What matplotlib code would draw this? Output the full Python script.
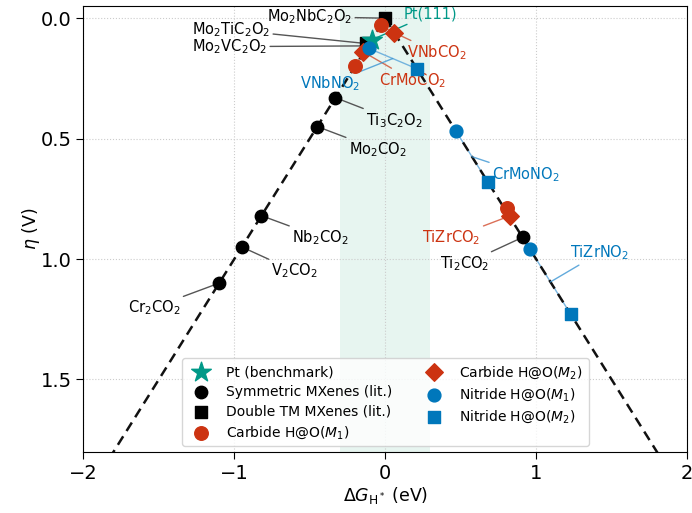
import numpy as np
import matplotlib
matplotlib.use("Agg")
import matplotlib.pyplot as plt

# ---- data (dG_H* in eV, eta in V) ----
pt_dg = [-0.09]
pt_eta = [0.09]

sym_names = [r"Cr$_2$CO$_2$", r"V$_2$CO$_2$", r"Nb$_2$CO$_2$",
             r"Mo$_2$CO$_2$", r"Ti$_3$C$_2$O$_2$", r"Ti$_2$CO$_2$"]
sym_dg = [-1.10, -0.95, -0.82, -0.45, -0.33, 0.91]
sym_eta = [1.10, 0.95, 0.82, 0.45, 0.33, 0.91]

dtm_names = [r"Mo$_2$NbC$_2$O$_2$", r"Mo$_2$TiC$_2$O$_2$", r"Mo$_2$VC$_2$O$_2$"]
dtm_dg = [0.00, -0.13, -0.12]
dtm_eta = [0.00, 0.105, 0.115]

carb_names = [r"VNbCO$_2$", r"CrMoCO$_2$", r"TiZrCO$_2$"]
carb_m1_dg = [-0.03, -0.20, 0.81]
carb_m1_eta = [0.03, 0.20, 0.79]
carb_m2_dg = [0.06, -0.145, 0.83]
carb_m2_eta = [0.06, 0.14, 0.82]

nit_names = [r"VNbNO$_2$", r"CrMoNO$_2$", r"TiZrNO$_2$"]
nit_m1_dg = [-0.11, 0.47, 0.96]
nit_m1_eta = [0.125, 0.47, 0.96]
nit_m2_dg = [0.21, 0.68, 1.23]
nit_m2_eta = [0.21, 0.68, 1.23]

# ---- label placement (text centres, data coords) ----
sym_text = [(-1.53, 1.20), (-0.60, 1.05), (-0.43, 0.91),
            (-0.05, 0.545), (0.06, 0.425), (0.53, 1.02)]
dtm_text = [(-0.50, -0.006), (-1.02, 0.048), (-1.03, 0.118)]
pt_text = (0.30, -0.017)
carb_text = [(0.34, 0.143), (0.18, 0.258), (0.44, 0.913)]
nit_text = [(-0.365, 0.271), (0.93, 0.649), (1.42, 0.975)]

TEAL = "#009988"
RED = "#CC3311"
BLUE = "#0077BB"
LABEL_FS = 10.5

fig = plt.figure(figsize=(6.92, 5.13), dpi=100)
ax = fig.add_axes([0.1205, 0.1195, 0.8723, 0.8685])

# optimal region and volcano line
ax.axvspan(-0.3, 0.3, color="#16a075", alpha=0.1, lw=0, zorder=0)
xv = np.linspace(-2, 2, 401)
ax.plot(xv, np.abs(xv), ls=(0, (4, 2.5)), color="#111111", lw=1.8, zorder=2)

# connectors between M1 / M2 sites of the same compound
for a, b, c, d in zip(carb_m1_dg, carb_m1_eta, carb_m2_dg, carb_m2_eta):
    ax.plot([a, c], [b, d], color=RED, lw=1.0, alpha=0.55, zorder=1.5)
for a, b, c, d in zip(nit_m1_dg, nit_m1_eta, nit_m2_dg, nit_m2_eta):
    ax.plot([a, c], [b, d], color="#56a3d9", lw=1.0, alpha=0.8, zorder=1.5)

# markers
ax.scatter(sym_dg, sym_eta, marker="o", s=80, color="black", zorder=5,
           label="Symmetric MXenes (lit.)")
ax.scatter(dtm_dg, dtm_eta, marker="s", s=80, color="black", zorder=5,
           label="Double TM MXenes (lit.)")
ax.scatter(carb_m1_dg, carb_m1_eta, marker="o", s=95, color=RED, zorder=5,
           label=r"Carbide H@O($M_1$)")
ax.scatter(pt_dg, pt_eta, marker="*", s=220, color=TEAL, zorder=5.5,
           label="Pt (benchmark)")
ax.scatter(carb_m2_dg, carb_m2_eta, marker="D", s=80, color=RED, zorder=6,
           label=r"Carbide H@O($M_2$)")
ax.scatter(nit_m1_dg, nit_m1_eta, marker="o", s=85, color=BLUE, zorder=6,
           label=r"Nitride H@O($M_1$)")
ax.scatter(nit_m2_dg, nit_m2_eta, marker="s", s=85, color=BLUE, zorder=6,
           label=r"Nitride H@O($M_2$)")


def label(name, xy, xyt, color, lcolor, lalpha=1.0):
    ax.annotate(name, xy=xy, xytext=xyt, textcoords="data",
                ha="center", va="center", fontsize=LABEL_FS, color=color,
                zorder=3,
                arrowprops=dict(arrowstyle="-", color=lcolor, lw=1.0,
                                alpha=lalpha, shrinkA=0, shrinkB=0))


for n, x, y, t in zip(sym_names, sym_dg, sym_eta, sym_text):
    label(n, (x, y), t, "black", "#555555")
for n, x, y, t in zip(dtm_names, dtm_dg, dtm_eta, dtm_text):
    label(n, (x, y), t, "black", "#555555")
label("Pt(111)", (pt_dg[0], pt_eta[0]), pt_text, TEAL, TEAL)
for n, x, y, t in zip(carb_names, carb_m2_dg, carb_m2_eta, carb_text):
    label(n, (x, y), t, RED, RED, 0.7)
for i, n in enumerate(nit_names):
    mid = ((nit_m1_dg[i] + nit_m2_dg[i]) / 2, (nit_m1_eta[i] + nit_m2_eta[i]) / 2)
    label(n, mid, nit_text[i], BLUE, "#3b95d3", 0.8)

ax.set_xlim(-2, 2)
ax.set_ylim(1.80, -0.05)
ax.set_xticks([-2, -1, 0, 1, 2])
ax.set_yticks([0.0, 0.5, 1.0, 1.5])
ax.tick_params(labelsize=14, length=5)
ax.grid(True, ls=":", color="#cccccc", lw=0.8)
ax.set_axisbelow(True)
ax.set_xlabel(r"$\Delta G_{\mathrm{H}^*}$ (eV)", fontsize=12.5, labelpad=2)
ax.set_ylabel(r"$\eta$ (V)", fontsize=12.5, labelpad=-1)

# legend in the reference order
order = ["Pt (benchmark)", "Symmetric MXenes (lit.)", "Double TM MXenes (lit.)",
         r"Carbide H@O($M_1$)", r"Carbide H@O($M_2$)",
         r"Nitride H@O($M_1$)", r"Nitride H@O($M_2$)"]
handles, labels = ax.get_legend_handles_labels()
lookup = dict(zip(labels, handles))
ax.legend([lookup[k] for k in order], order, loc="lower center", ncol=2,
          fontsize=10, frameon=True, borderaxespad=0.4, columnspacing=2.0,
          labelspacing=0.4)

fig.savefig("out.png", dpi=100)
